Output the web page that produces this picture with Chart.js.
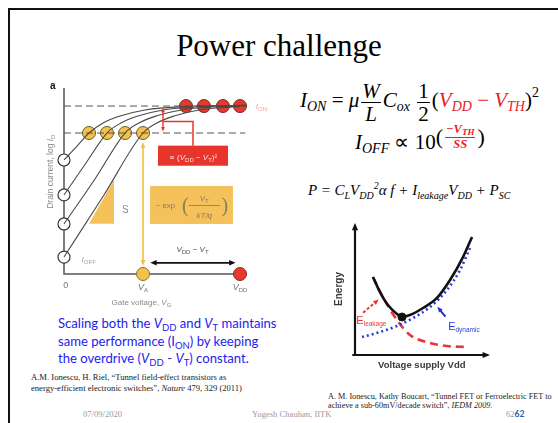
<!DOCTYPE html>
<html>
<head>
<meta charset="utf-8">
<script src="https://cdn.jsdelivr.net/npm/chart.js@4.4.0/dist/chart.umd.min.js"></script>
<style>
body { margin:0; width:558px; height:423px; overflow:hidden; background:#fff; position:relative; font-family:'Liberation Serif', serif; }
canvas { position:absolute; left:0; top:0; }
.abs { position:absolute; white-space:nowrap; }
#frame { position:absolute; left:8px; top:8px; width:620px; height:500px; border-top:2px solid #111; border-left:2px solid #111; }
#title { left:0; width:558px; top:28px; text-align:center; font-size:31px; color:#000; }
.eq { font-size:21px; color:#000; }
.eq sub { font-size:14px; font-style:italic; vertical-align:-4px; }
.eq sup { font-size:14px; vertical-align:10px; }
.fr { display:inline-block; vertical-align:middle; text-align:center; line-height:1.05; margin:0 2px; }
.fr > span { display:block; }
.fr > span:first-child { border-bottom:1px solid currentColor; padding:0 1px; }
.red { color:#e8202a; }
#eq3 { font-size:15px; font-style:italic; }
#eq3 sub { font-size:10px; vertical-align:-4px; }
#eq3 sup { font-size:10px; vertical-align:6px; }
#note { left:58px; top:315px; font-family:Lato, sans-serif; font-size:13.1px; line-height:17.5px; color:#1e22ee; }
#note sub { font-size:9.5px; vertical-align:-3px; line-height:0; }
.cite { font-size:8.6px; line-height:11px; color:#222; }
.foot { font-size:8.6px; color:#9a9a9a; top:409px; }
</style>
</head>
<body>
<div id="frame"></div>
<div id="title" class="abs">Power challenge</div>

<div id="eq1" class="abs eq" style="left:300px; top:80px;"><i>I</i><sub>ON</sub> = <i>μ</i><span class="fr"><span><i>W</i></span><span><i>L</i></span></span><i>C</i><sub>ox</sub> <span class="fr"><span>1</span><span>2</span></span>(<span class="red"><i>V</i><sub>DD</sub> − <i>V</i><sub>TH</sub></span>)<sup>2</sup></div>

<div id="eq2" class="abs eq" style="left:355px; top:123px;"><i>I</i><sub>OFF</sub> ∝ 10<span style="display:inline-block; vertical-align:7px;"><span style="font-size:22px; vertical-align:middle;">(</span><span class="fr red" style="font-size:12.5px; font-style:italic; font-weight:bold;"><span>−V<sub style="font-size:9px; vertical-align:-2px;">TH</sub></span><span>SS</span></span><span style="font-size:22px; vertical-align:middle;">)</span></span></div>

<div id="eq3" class="abs eq" style="left:308px; top:180px;">P = C<sub>L</sub>V<sub>DD</sub><sup>2</sup><span style="font-style:italic;">α f</span> + I<sub>leakage</sub>V<sub>DD</sub> + P<sub>SC</sub></div>

<div id="note" class="abs">Scaling both the <i>V</i><sub>DD</sub> and <i>V</i><sub>T</sub> maintains<br>same performance (I<sub>ON</sub>) by keeping<br>the overdrive (<i>V</i><sub>DD</sub> - <i>V</i><sub>T</sub>) constant.</div>

<div class="abs cite" style="left:31px; top:372px;">A.M. Ionescu, H. Riel, “Tunnel field-effect transistors as<br>energy-efficient electronic switches”, <i>Nature</i> 479, 329 (2011)</div>
<div class="abs cite" style="left:328px; top:392px; font-size:8.2px; line-height:9px;">A. M. Ionescu, Kathy Boucart, “Tunnel FET or Ferroelectric FET to<br>achieve a sub-60mV/decade switch”, <i>IEDM 2009</i>.</div>

<div class="abs foot" style="left:83px;">07/09/2020</div>
<div class="abs foot" style="left:252px;">Yogesh Chauhan, IITK</div>
<div class="abs foot" style="left:506px;">62<span style="color:#2f5fb0; font-family:Lato, sans-serif; font-weight:bold;">62</span></div>

<canvas id="ivChart" width="558" height="423"></canvas>
<canvas id="energyChart" width="558" height="423"></canvas>

<script>
// ---- left panel: log(I_D) vs gate voltage (normalised V_G, decades of current)
const curve1 = [[0,6.13],[0.074,6.88],[0.142,7.58],[0.222,8.12],[0.318,8.49],[0.46,8.82],[0.693,9.01],[1.03,9.07]];
const curve2 = [[0,4.25],[0.125,5.97],[0.244,7.58],[0.324,8.12],[0.42,8.49],[0.5625,8.82],[0.795,9.01],[1.03,9.07]];
const curve3 = [[0,2.69],[0.176,5.11],[0.347,7.58],[0.426,8.12],[0.523,8.49],[0.665,8.82],[0.903,9.01],[1.03,9.07]];
const curve4 = [[0,0.91],[0.227,4.25],[0.449,7.58],[0.528,8.12],[0.625,8.49],[0.767,8.82],[1.0,9.01],[1.03,9.04]];
const offLevels = [6.13, 4.25, 2.69, 0.91];
const threshV = [0.142, 0.244, 0.347, 0.449];
const onV = [0.693, 0.795, 0.903, 1.0];
const ionLevel = 9.03;
const thLevel = 7.58;
const vA = 0.449;
const vDD = 1.0;

// ---- right panel: energy vs supply voltage
const eTotal = [[1.33,5.91],[1.85,4.77],[2.44,3.79],[3.11,3.11],[3.48,2.88],[4.07,3.03],[5.04,3.56],[6.07,4.32],[7.04,5.68],[8.0,7.42],[8.67,8.94]];
const eLeak = [[1.33,5.91],[2.07,4.39],[3.11,2.65],[4.07,1.52],[5.56,0.91],[6.81,0.68],[8.3,0.61]];
const eDyn = [[0.52,1.36],[1.85,1.74],[3.11,2.20],[4.30,2.80],[5.56,3.64],[6.81,4.92],[7.78,6.44],[8.52,8.11]];
const eMin = [3.48, 2.88];

const pts = a => a.map(p => ({x: p[0], y: p[1]}));

function arrowHead(ctx, x1, y1, x2, y2, size) {
    const a = Math.atan2(y2 - y1, x2 - x1);
    ctx.beginPath();
    ctx.moveTo(x2, y2);
    ctx.lineTo(x2 - size * Math.cos(a - 0.4), y2 - size * Math.sin(a - 0.4));
    ctx.lineTo(x2 - size * Math.cos(a + 0.4), y2 - size * Math.sin(a + 0.4));
    ctx.closePath();
    ctx.fill();
}

function arrow(ctx, x1, y1, x2, y2, color, w, size, both, dash) {
    ctx.save();
    ctx.strokeStyle = color;
    ctx.fillStyle = color;
    ctx.lineWidth = w;
    const a = Math.atan2(y2 - y1, x2 - x1);
    const sx = both ? x1 + size * 0.8 * Math.cos(a) : x1, sy = both ? y1 + size * 0.8 * Math.sin(a) : y1;
    ctx.setLineDash(dash || []);
    ctx.beginPath();
    ctx.moveTo(sx, sy);
    ctx.lineTo(x2 - size * 0.8 * Math.cos(a), y2 - size * 0.8 * Math.sin(a));
    ctx.stroke();
    ctx.setLineDash([]);
    arrowHead(ctx, x1, y1, x2, y2, size);
    if (both) arrowHead(ctx, x2, y2, x1, y1, size);
    ctx.restore();
}

// text with an optional subscript: parts = [[text, font, dy], ...]
function rich(ctx, parts, x, y, color, align) {
    ctx.save();
    ctx.fillStyle = color;
    ctx.textBaseline = 'alphabetic';
    let w = 0;
    parts.forEach(p => { ctx.font = p[1]; w += ctx.measureText(p[0]).width; });
    let cx = align === 'center' ? x - w / 2 : (align === 'right' ? x - w : x);
    parts.forEach(p => {
        ctx.font = p[1];
        ctx.fillText(p[0], cx, y + (p[2] || 0));
        cx += ctx.measureText(p[0]).width;
    });
    ctx.restore();
}

const ivDecor = {
    id: 'ivDecor',
    beforeDatasetsDraw(chart) {
        const ctx = chart.ctx, x = chart.scales.x, y = chart.scales.y;
        const px = v => x.getPixelForValue(v), py = v => y.getPixelForValue(v);
        ctx.save();
        // yellow S triangle
        ctx.fillStyle = '#f5c15a';
        ctx.beginPath();
        ctx.moveTo(px(0.142), py(2.7));
        ctx.lineTo(px(0.284), py(2.7));
        ctx.lineTo(px(0.284), py(5.07));
        ctx.closePath();
        ctx.fill();
        // yellow box
        ctx.fillRect(px(0.489), py(4.73), px(0.96) - px(0.489), py(2.69) - py(4.73));
        // red box
        ctx.fillStyle = '#e8352b';
        ctx.fillRect(px(0.534), py(6.9), px(0.932) - px(0.534), py(5.82) - py(6.9));
        // red connector
        ctx.strokeStyle = '#e8352b';
        ctx.lineWidth = 1.5;
        ctx.beginPath();
        ctx.moveTo(px(0.5625), py(8.2));
        ctx.lineTo(px(0.733), py(8.2));
        ctx.lineTo(px(0.733), py(6.9));
        ctx.stroke();
        // axes
        ctx.strokeStyle = '#555';
        ctx.lineWidth = 1.5;
        ctx.beginPath();
        ctx.moveTo(px(0), py(10));
        ctx.lineTo(px(0), py(0));
        ctx.lineTo(px(vDD), py(0));
        ctx.stroke();
        ctx.restore();
    },
    afterDatasetsDraw(chart) {
        const ctx = chart.ctx, x = chart.scales.x, y = chart.scales.y;
        const px = v => x.getPixelForValue(v), py = v => y.getPixelForValue(v);
        // arrows
        arrow(ctx, px(vA), py(thLevel - 0.5), px(vA), py(0.45), '#f2c040', 1.6, 6, true);
        arrow(ctx, px(0.49), py(0.6), px(0.975), py(0.6), '#111', 1.6, 7, true);
        arrow(ctx, px(0.5625), py(ionLevel - 0.08), px(0.5625), py(thLevel + 0.08), '#e8352b', 1.4, 5, true);
        const sans = 'Arial, "Liberation Sans", sans-serif';
        // box texts
        rich(ctx, [['∝ (', '8px ' + sans], ['V', 'italic 8px ' + sans], ['DD', '6px ' + sans, 2], [' − ', '8px ' + sans], ['V', 'italic 8px ' + sans], ['T', '6px ' + sans, 2], [')²', '8px ' + sans]],
            px(0.733), py(6.12), '#fbe3dc', 'center');
        ctx.save();
        ctx.fillStyle = '#8a7a60';
        ctx.font = '8px ' + sans;
        ctx.textAlign = 'left';
        ctx.fillText('~ exp', px(0.52), py(3.55));
        ctx.font = '20px "Liberation Serif"';
        ctx.fillText('(', px(0.67), py(3.35));
        ctx.fillText(')', px(0.895), py(3.35));
        ctx.fillRect(px(0.71), py(3.71), px(0.885) - px(0.71), 0.8);
        ctx.restore();
        rich(ctx, [['V', 'italic 8px ' + sans], ['T', '6px ' + sans, 2]], px(0.797), py(3.95), '#8a7a60', 'center');
        rich(ctx, [['kT/q', 'italic 8px ' + sans]], px(0.797), py(3.0), '#8a7a60', 'center');
        rich(ctx, [['S', '10px ' + sans]], px(0.33), py(3.3), '#8a8a8a', 'left');
        rich(ctx, [['a', 'bold 10px ' + sans]], px(-0.08), py(9.92), '#111', 'left');
        rich(ctx, [['I', 'italic 8px ' + sans], ['ON', '6px ' + sans, 2]], px(1.09), py(ionLevel - 0.15), '#f0a0a0', 'left');
        rich(ctx, [['I', 'italic 8px ' + sans], ['OFF', '6px ' + sans, 2]], px(0.1), py(0.65), '#9aa0aa', 'left');
        rich(ctx, [['0', '9px ' + sans]], px(0.01), py(-0.75), '#777', 'center');
        rich(ctx, [['V', 'italic 9px ' + sans], ['A', '6px ' + sans, 2]], px(vA), py(-0.85), '#6a7282', 'center');
        rich(ctx, [['V', 'italic 9px ' + sans], ['DD', '6px ' + sans, 2]], px(vDD), py(-0.85), '#6a7282', 'center');
        rich(ctx, [['V', 'italic 8px ' + sans], ['DD', '6px ' + sans, 2], [' − ', '8px ' + sans], ['V', 'italic 8px ' + sans], ['T', '6px ' + sans, 2]], px(0.73), py(1.2), '#555', 'center');
        rich(ctx, [['Gate voltage, ', '8px ' + sans], ['V', 'italic 8px ' + sans], ['G', '6px ' + sans, 2]], px(0.44), py(-1.65), '#8a8a8a', 'center');
        ctx.save();
        ctx.translate(px(-0.06), py(5.5));
        ctx.rotate(-Math.PI / 2);
        rich(ctx, [['Drain current, log ', '8.5px ' + sans], ['I', 'italic 8.5px ' + sans], ['D', '6px ' + sans, 2]], 0, 0, '#8a8a8a', 'center');
        ctx.restore();
    }
};

function curveSet(data) {
    return { type: 'line', data: pts(data), borderColor: '#4a4a4a', borderWidth: 1.1, pointRadius: 0,
             cubicInterpolationMode: 'monotone', clip: false };
}

new Chart(document.getElementById('ivChart'), {
    type: 'scatter',
    data: {
        datasets: [
            curveSet(curve1), curveSet(curve2), curveSet(curve3), curveSet(curve4),
            { type: 'line', data: [{x: 0, y: ionLevel}, {x: 1.06, y: ionLevel}], borderColor: '#555', borderWidth: 1,
              borderDash: [7, 4], pointRadius: 0, clip: false },
            { type: 'line', data: [{x: 0, y: thLevel}, {x: 1.03, y: thLevel}], borderColor: '#555', borderWidth: 1,
              borderDash: [7, 4], pointRadius: 0, clip: false },
            { data: offLevels.map(v => ({x: 0, y: v})), pointRadius: 6, pointBackgroundColor: '#fff',
              pointBorderColor: '#3a3a3a', pointBorderWidth: 1.2, clip: false },
            { data: threshV.map(v => ({x: v, y: thLevel})), pointRadius: 6.5, pointBackgroundColor: '#f4c24c',
              pointBorderColor: '#6a5a2a', pointBorderWidth: 1, clip: false },
            { data: onV.map(v => ({x: v, y: ionLevel})), pointRadius: 6.5, pointBackgroundColor: '#e63a2e',
              pointBorderColor: '#7a2a20', pointBorderWidth: 1, clip: false },
            { data: [{x: vA, y: 0}, {x: vDD, y: 0}], pointRadius: 6.5, pointBackgroundColor: ['#f4c24c', '#e63a2e'],
              pointBorderColor: ['#8a7030', '#8a2a20'], pointBorderWidth: 1, clip: false }
        ]
    },
    options: {
        responsive: false,
        animation: false,
        devicePixelRatio: 1,
        layout: { padding: { left: 64, right: 318, top: 88, bottom: 149 } },
        scales: {
            x: { type: 'linear', min: 0, max: 1, display: false },
            y: { type: 'linear', min: 0, max: 10, display: false }
        },
        plugins: { legend: { display: false }, tooltip: { enabled: false } }
    },
    plugins: [ivDecor]
});

const energyDecor = {
    id: 'energyDecor',
    beforeDatasetsDraw(chart) {
        const ctx = chart.ctx, x = chart.scales.x, y = chart.scales.y;
        const px = v => x.getPixelForValue(v), py = v => y.getPixelForValue(v);
        arrow(ctx, px(0), py(0), px(0), py(10), '#111', 2.2, 8, false);
        arrow(ctx, px(-0.2), py(0), px(10), py(0), '#111', 2.2, 8, false);
    },
    afterDatasetsDraw(chart) {
        const ctx = chart.ctx, x = chart.scales.x, y = chart.scales.y;
        const px = v => x.getPixelForValue(v), py = v => y.getPixelForValue(v);
        const sans = 'Arial, "Liberation Sans", sans-serif';
        arrow(ctx, px(0.6), py(3.2), px(1.75), py(4.2), '#e8363a', 2, 6, false, [3, 2]);
        arrow(ctx, px(6.7), py(2.9), px(6.1), py(3.65), '#2430c8', 2, 6, false);
        rich(ctx, [['E', '11px ' + sans], ['leakage', '6.5px ' + sans, 2]], px(0.1), py(2.35), '#e8363a', 'left');
        rich(ctx, [['E', '11px ' + sans], ['dynamic', '6.5px ' + sans, 2]], px(6.9), py(1.9), '#2a40d8', 'left');
        rich(ctx, [['Voltage supply Vdd', 'bold 9.5px ' + sans]], px(4.95), py(-0.95), '#3a3a3a', 'center');
        ctx.save();
        ctx.translate(px(-1.0), py(5.0));
        ctx.rotate(-Math.PI / 2);
        rich(ctx, [['Energy', 'bold 10px ' + sans]], 0, 0, '#3a3a3a', 'center');
        ctx.restore();
    }
};

new Chart(document.getElementById('energyChart'), {
    type: 'line',
    data: {
        datasets: [
            { data: [{x: eMin[0], y: eMin[1]}], type: 'scatter', pointRadius: 4, pointBackgroundColor: '#111',
              pointBorderColor: '#111', clip: false },
            { data: pts(eTotal), borderColor: '#111', borderWidth: 2.6, pointRadius: 0,
              cubicInterpolationMode: 'monotone', clip: false },
            { data: pts(eDyn), borderColor: '#2a3ad0', borderWidth: 2.6, borderDash: [2, 3], pointRadius: 0,
              cubicInterpolationMode: 'monotone', clip: false },
            { data: pts(eLeak), borderColor: '#e8363a', borderWidth: 2.6, borderDash: [8, 5], pointRadius: 0,
              cubicInterpolationMode: 'monotone', clip: false }
        ]
    },
    options: {
        responsive: false,
        animation: false,
        devicePixelRatio: 1,
        layout: { padding: { left: 355, right: 68, top: 223, bottom: 68 } },
        scales: {
            x: { type: 'linear', min: 0, max: 10, display: false },
            y: { type: 'linear', min: 0, max: 10, display: false }
        },
        plugins: { legend: { display: false }, tooltip: { enabled: false } }
    },
    plugins: [energyDecor]
});
</script>
</body>
</html>
